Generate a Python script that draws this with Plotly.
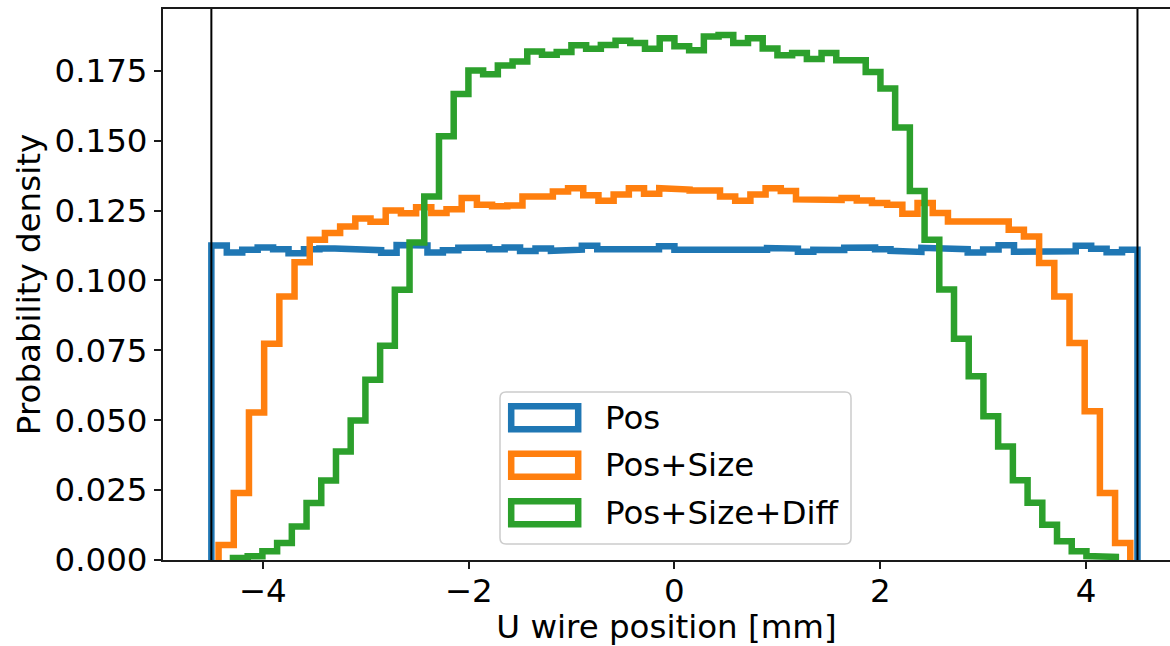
import numpy as np
import plotly.graph_objects as go

# ---------------- data ----------------
series_names = ["Pos", "Pos+Size", "Pos+Size+Diff"]
n_bins = 60
pos_range = (-4.5, 4.5)
size_range = (-4.43, 4.43)
diff_range = (-4.29, 4.29)

pos_density = [
    0.1125, 0.1100, 0.1110, 0.1118, 0.1112, 0.1097, 0.1112, 0.1114, 0.1113, 0.1108,
    0.1108, 0.1099, 0.1127, 0.1125, 0.1100, 0.1108, 0.1117, 0.1118, 0.1112, 0.1118,
    0.1105, 0.1114, 0.1106, 0.1110, 0.1124, 0.1112, 0.1108, 0.1110, 0.1112, 0.1122,
    0.1110, 0.1109, 0.1109, 0.1109, 0.1110, 0.1110, 0.1116, 0.1114, 0.1103, 0.1110,
    0.1109, 0.1117, 0.1118, 0.1112, 0.1106, 0.1102, 0.1117, 0.1113, 0.1112, 0.1100,
    0.1111, 0.1126, 0.1103, 0.1102, 0.1102, 0.1104, 0.1124, 0.1113, 0.1101, 0.1110,
]
size_density = [
    0.0054, 0.0240, 0.0528, 0.0774, 0.0943, 0.1065, 0.1146, 0.1170, 0.1193, 0.1222,
    0.1210, 0.1250, 0.1240, 0.1262, 0.1241, 0.1255, 0.1295, 0.1271, 0.1265, 0.1268,
    0.1300, 0.1300, 0.1318, 0.1330, 0.1305, 0.1285, 0.1307, 0.1330, 0.1310, 0.1330,
    0.1325, 0.1322, 0.1322, 0.1300, 0.1285, 0.1307, 0.1330, 0.1320, 0.1290, 0.1290,
    0.1288, 0.1295, 0.1286, 0.1277, 0.1271, 0.1239, 0.1277, 0.1241, 0.1211, 0.1211,
    0.1211, 0.1211, 0.1181, 0.1157, 0.1062, 0.0943, 0.0776, 0.0532, 0.0240, 0.0061,
]
diff_density = [
    0.0007, 0.0013, 0.0031, 0.0061, 0.0120, 0.0204, 0.0284, 0.0388, 0.0499, 0.0645,
    0.0766, 0.0967, 0.1136, 0.1300, 0.1516, 0.1667, 0.1751, 0.1738, 0.1769, 0.1783,
    0.1819, 0.1807, 0.1817, 0.1841, 0.1829, 0.1842, 0.1857, 0.1849, 0.1829, 0.1866,
    0.1838, 0.1823, 0.1873, 0.1878, 0.1849, 0.1866, 0.1830, 0.1806, 0.1814, 0.1792,
    0.1814, 0.1788, 0.1788, 0.1746, 0.1687, 0.1547, 0.1320, 0.1146, 0.0968, 0.0791,
    0.0657, 0.0514, 0.0406, 0.0285, 0.0205, 0.0126, 0.0067, 0.0031, 0.0014, 0.0011,
]
wire_edges = [-4.5, 4.5]

x_tick_vals = [-4, -2, 0, 2, 4]
x_tick_text = ["\u22124", "\u22122", "0", "2", "4"]
y_tick_vals = [0.0, 0.025, 0.05, 0.075, 0.1, 0.125, 0.15, 0.175]

colors = ["#1f77b4", "#ff7f0e", "#2ca02c"]
FONT = "DejaVu Sans"
FS = 32.5
LW = 6.5

# ---------------- figure ----------------
W, H = 1170, 646
ML, MR, MT, MB = 163, 0, 9, 86


def step_xy(rng, vals):
    edges = np.linspace(rng[0], rng[1], len(vals) + 1)
    x = np.repeat(edges, 2)
    y = np.concatenate([[0.0], np.repeat(np.asarray(vals, float), 2), [0.0]])
    return x, y


fig = go.Figure()
for name, rng, vals, col in zip(series_names,
                                [pos_range, size_range, diff_range],
                                [pos_density, size_density, diff_density],
                                colors):
    x, y = step_xy(rng, vals)
    fig.add_trace(go.Scatter(x=x, y=y, mode="lines", name=name,
                             line=dict(color=col, width=LW),
                             showlegend=False, hoverinfo="skip"))

for xv in wire_edges:
    fig.add_shape(type="line", xref="x", yref="paper", x0=xv, x1=xv, y0=0, y1=1,
                  line=dict(color="black", width=2), layer="above")

# manual matplotlib-style legend
pw = W - ML - MR
ph = H - MT - MB


def px2paper(px, py):
    return (px - ML) / pw, (H - MB - py) / ph


fx0, fy1 = px2paper(500, 392)
fx1, fy0 = px2paper(851, 544)
r = 6
rx, ry = r / pw, r / ph
path = (f"M {fx0+rx},{fy1} L {fx1-rx},{fy1} Q {fx1},{fy1} {fx1},{fy1-ry} "
        f"L {fx1},{fy0+ry} Q {fx1},{fy0} {fx1-rx},{fy0} L {fx0+rx},{fy0} "
        f"Q {fx0},{fy0} {fx0},{fy0+ry} L {fx0},{fy1-ry} Q {fx0},{fy1} {fx0+rx},{fy1} Z")
fig.add_shape(type="path", xref="paper", yref="paper", path=path,
              fillcolor="rgba(255,255,255,0.8)", line=dict(color="#cccccc", width=1.5),
              layer="above")

row_centers = [417.7, 465.2, 512.7]
for name, col, yc in zip(series_names, colors, row_centers):
    x0, y0 = px2paper(511.2, yc + 11.5)
    x1, y1 = px2paper(578.2, yc - 11.5)
    fig.add_shape(type="rect", xref="paper", yref="paper", x0=x0, x1=x1, y0=y0, y1=y1,
                  line=dict(color=col, width=LW), fillcolor="rgba(0,0,0,0)", layer="above")
    tx, ty = px2paper(603, yc)
    fig.add_annotation(xref="paper", yref="paper", x=tx, y=ty, text=name,
                       showarrow=False, xanchor="left", yanchor="middle",
                       font=dict(family=FONT, size=FS, color="black"))

axis_common = dict(showline=True, linecolor="#1a1a1a", linewidth=2,
                   ticks="outside", ticklen=7, tickwidth=2, tickcolor="#1a1a1a",
                   showgrid=False, zeroline=False,
                   tickfont=dict(family=FONT, size=FS, color="black"))

fig.update_layout(
    width=W, height=H,
    margin=dict(l=ML, r=MR, t=MT, b=MB, pad=0),
    paper_bgcolor="white", plot_bgcolor="white",
    font=dict(family=FONT, size=FS, color="black"),
    xaxis=dict(range=[-4.97, 4.816], mirror=True, tickvals=x_tick_vals,
               ticktext=x_tick_text, ticklabelstandoff=-6,
               title=dict(text="U wire position [mm]", font=dict(family=FONT, size=FS),
                          standoff=4),
               **axis_common),
    yaxis=dict(range=[0, 0.1971], mirror=False, tickvals=y_tick_vals,
               tickformat=".3f",
               title=dict(text="Probability density", font=dict(family=FONT, size=FS),
                          standoff=4),
               **axis_common),
)

fig.write_html("out.html")
